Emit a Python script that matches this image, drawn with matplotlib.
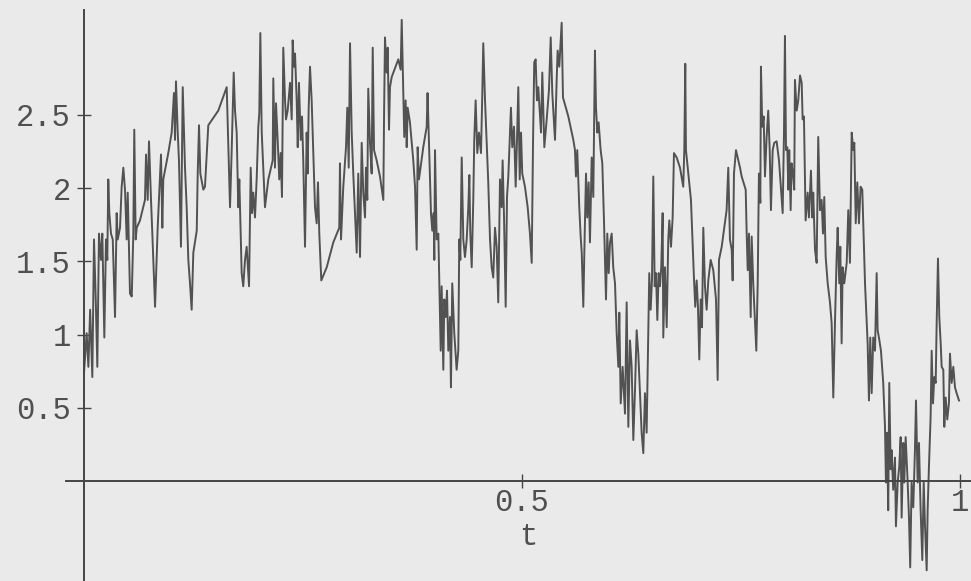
import matplotlib
matplotlib.use("Agg")
import matplotlib.pyplot as plt

plt.rcParams["font.family"] = ["Liberation Mono", "DejaVu Sans Mono"]

seg1_t = [0.000, 0.003, 0.005, 0.007, 0.0095, 0.0114, 0.0134, 0.0152, 0.0171, 0.0194,
          0.0209, 0.0232, 0.0251, 0.0266, 0.0277, 0.0289, 0.0308, 0.0328, 0.0354, 0.0373,
          0.0385, 0.0411, 0.0430, 0.0449, 0.0468, 0.0487, 0.0499, 0.0525, 0.0545, 0.0563,
          0.0574, 0.0590, 0.0602, 0.0639, 0.0696, 0.0708, 0.0727, 0.0742, 0.0765, 0.0780,
          0.0811, 0.0841, 0.0879, 0.0894, 0.0905, 0.0962, 0.1001, 0.1027, 0.1039, 0.1050,
          0.1070, 0.1084, 0.1107, 0.1127, 0.1153, 0.1172, 0.1191, 0.1210, 0.1229, 0.1248,
          0.1287, 0.1298, 0.1313, 0.1328, 0.1362, 0.1381, 0.1419, 0.1533, 0.1629, 0.1667,
          0.1686, 0.1709, 0.1724, 0.1743, 0.1761, 0.1773, 0.1800, 0.1818, 0.1838, 0.1857,
          0.1884]
seg1_v = [0.74, 1.01, 0.78, 1.17, 0.71, 1.65, 1.24, 0.78, 1.69, 1.51,
          1.69, 0.98, 1.65, 1.51, 2.06, 1.83, 1.69, 1.65, 1.12, 1.83,
          1.65, 1.73, 2.01, 2.14, 1.99, 1.65, 1.97, 1.28, 1.26, 1.69,
          2.40, 1.65, 1.73, 1.78, 1.92, 2.23, 1.92, 2.32, 1.92, 1.69,
          1.19, 1.73, 2.23, 1.73, 2.06, 2.24, 2.38, 2.65, 2.33, 2.73,
          2.38, 2.19, 1.60, 2.69, 2.14, 1.87, 1.51, 1.35, 1.17, 1.56,
          1.71, 2.10, 2.43, 2.10, 1.99, 2.01, 2.43, 2.53, 2.69, 1.87,
          2.26, 2.79, 2.53, 2.38, 1.87, 2.06, 1.42, 1.33, 1.51, 1.60,
          1.33]

seg2_t = [0.1903, 0.1918, 0.1933, 0.1952, 0.1971, 0.1990, 0.2001, 0.2013, 0.2029, 0.2066,
          0.2104, 0.2154, 0.2161, 0.2180, 0.2192, 0.2211, 0.2229, 0.2245, 0.2260, 0.2275,
          0.2295, 0.2306, 0.2325, 0.2352, 0.2371, 0.2382, 0.2397, 0.2409, 0.2428, 0.2440,
          0.2454, 0.2474, 0.2489, 0.2503, 0.2523, 0.2542, 0.2553, 0.2565, 0.2580, 0.2599,
          0.2618, 0.2637, 0.2656, 0.2671, 0.2686, 0.2709, 0.2771, 0.2846, 0.2914, 0.2922,
          0.2934, 0.2960, 0.2991, 0.3006, 0.3022, 0.3037, 0.3056, 0.3074, 0.3094, 0.3113,
          0.3131, 0.3151, 0.3170, 0.3188, 0.3208, 0.3219, 0.3234, 0.3245, 0.3265, 0.3284,
          0.3296, 0.3311, 0.3341, 0.3379, 0.3417, 0.3425, 0.3436, 0.3455, 0.3467, 0.3482,
          0.3493, 0.3513, 0.3588, 0.3615, 0.3627, 0.3645, 0.3656, 0.3672, 0.3684, 0.3695,
          0.3721, 0.3759]
seg2_v = [2.14, 1.83, 1.97, 1.80, 2.06, 2.42, 2.51, 3.06, 2.38, 1.87,
          2.06, 2.19, 2.75, 2.14, 2.58, 2.33, 2.06, 2.24, 1.94, 2.96,
          2.60, 2.47, 2.53, 2.72, 2.47, 3.01, 2.83, 2.92, 2.60, 2.28,
          2.72, 2.33, 2.49, 2.19, 1.60, 2.38, 2.10, 2.55, 2.83, 2.60,
          2.24, 1.87, 1.76, 2.04, 1.69, 1.37, 1.46, 1.63, 1.73, 2.17,
          1.65, 2.01, 2.28, 2.55, 2.14, 2.99, 2.38, 2.10, 1.83, 1.56,
          2.10, 1.53, 2.31, 1.97, 1.80, 2.14, 1.92, 2.68, 2.31, 2.10,
          2.96, 2.26, 2.19, 2.08, 1.92, 2.47, 3.03, 2.79, 2.96, 2.40,
          2.69, 2.76, 2.88, 2.81, 3.15, 2.65, 2.35, 2.60, 2.28, 2.55,
          2.45, 2.19]

seg3_t = [0.3779, 0.3798, 0.3809, 0.3824, 0.3873, 0.3912, 0.3922, 0.3938, 0.3961, 0.3976,
          0.3992, 0.3999, 0.4007, 0.4026, 0.4045, 0.4056, 0.4072, 0.4083, 0.4102, 0.4113,
          0.4129, 0.4144, 0.4159, 0.4178, 0.4189, 0.4204, 0.4227, 0.4254, 0.4273, 0.4284,
          0.4296, 0.4312, 0.4330, 0.4349, 0.4369, 0.4387, 0.4399, 0.4410, 0.4426, 0.4444,
          0.4455, 0.4471, 0.4490, 0.4509, 0.4532, 0.4547, 0.4558, 0.4578, 0.4597, 0.4615,
          0.4635, 0.4654, 0.4672, 0.4692, 0.4711, 0.4729, 0.4749, 0.4768, 0.4779, 0.4795,
          0.4814, 0.4829, 0.4844, 0.4874, 0.4889, 0.4909, 0.4928, 0.4943, 0.4958, 0.4974,
          0.4989, 0.5003, 0.5034, 0.5065, 0.5091, 0.5111, 0.5126, 0.5140, 0.5156, 0.5171,
          0.5186, 0.5217, 0.5232, 0.5255, 0.5282, 0.5308, 0.5328, 0.5346, 0.5377, 0.5396,
          0.5407, 0.5426, 0.5453, 0.5468, 0.5529, 0.5586]
seg3_v = [2.01, 1.58, 2.28, 2.06, 2.28, 2.42, 2.65, 2.31, 1.83, 1.71,
          1.83, 1.51, 2.26, 1.65, 1.69, 1.37, 0.89, 1.33, 0.76, 1.24,
          1.12, 1.30, 0.89, 1.12, 0.64, 1.35, 1.01, 0.76, 0.89, 1.65,
          1.51, 2.21, 1.65, 1.53, 1.65, 1.87, 2.09, 1.69, 1.46, 1.92,
          2.33, 2.60, 2.24, 2.38, 2.24, 2.65, 2.99, 2.60, 2.31, 2.04,
          1.65, 1.46, 1.39, 1.73, 1.60, 1.22, 2.06, 1.87, 2.19, 1.80,
          1.19, 1.94, 2.08, 2.55, 2.28, 2.42, 2.01, 2.33, 2.69, 2.06,
          2.38, 2.10, 2.01, 1.87, 1.69, 1.49, 2.31, 2.86, 2.88, 2.60,
          2.69, 2.38, 2.79, 2.28, 2.47, 2.67, 3.03, 2.65, 2.33, 2.74,
          2.94, 2.83, 3.13, 2.62, 2.49, 2.33]

seg4_t = [0.5605, 0.5616, 0.5631, 0.5654, 0.5670, 0.5682, 0.5700, 0.5716, 0.5731, 0.5745,
          0.5761, 0.5776, 0.5796, 0.5814, 0.5833, 0.5845, 0.5860, 0.5875, 0.5898, 0.5917,
          0.5936, 0.5959, 0.5974, 0.5990, 0.6005, 0.6024, 0.6042, 0.6062, 0.6081, 0.6100,
          0.6111, 0.6127, 0.6149, 0.6176, 0.6195, 0.6214, 0.6233, 0.6252, 0.6271, 0.6290,
          0.6309, 0.6328, 0.6347, 0.6366, 0.6385, 0.6404, 0.6423, 0.6442, 0.6453, 0.6469,
          0.6484, 0.6499, 0.6515, 0.6530, 0.6545, 0.6560, 0.6575, 0.6590, 0.6606, 0.6613,
          0.6632, 0.6652, 0.6670, 0.6682, 0.6701, 0.6720, 0.6735, 0.6766, 0.6804, 0.6841,
          0.6853, 0.6864, 0.6872, 0.6902, 0.6929, 0.6963, 0.6978, 0.6994, 0.7009, 0.7024,
          0.7040, 0.7055, 0.7070, 0.7089, 0.7108, 0.7127, 0.7154, 0.7184, 0.7215, 0.7234,
          0.7249, 0.7280, 0.7336, 0.7355, 0.7374, 0.7394, 0.7405, 0.7420, 0.7443, 0.7489]
seg4_v = [2.26, 2.08, 2.26, 1.87, 1.67, 1.56, 1.19, 1.69, 2.10, 1.80,
          2.04, 1.63, 2.21, 1.94, 2.94, 2.55, 2.38, 2.45, 2.26, 2.17,
          1.78, 1.24, 1.69, 1.42, 1.63, 1.69, 1.46, 1.35, 1.01, 0.78,
          1.15, 0.53, 0.78, 0.46, 1.22, 0.37, 0.96, 0.78, 0.28, 0.62,
          1.03, 0.87, 0.60, 0.33, 0.19, 0.60, 0.33, 1.01, 1.42, 1.17,
          1.37, 2.08, 1.33, 1.42, 1.10, 1.42, 1.33, 1.46, 1.83, 0.98,
          1.46, 1.05, 1.65, 1.78, 1.60, 1.80, 2.24, 2.21, 2.14, 2.01,
          2.26, 2.85, 2.26, 2.08, 1.92, 1.39, 1.19, 1.37, 1.19, 0.83,
          1.24, 1.05, 1.73, 1.33, 1.17, 1.37, 1.51, 1.44, 1.24, 0.69,
          1.51, 1.60, 1.85, 2.14, 1.65, 1.58, 1.37, 2.10, 2.26, 2.14]

seg5_t = [0.7508, 0.7554, 0.7565, 0.7577, 0.7591, 0.7611, 0.7622, 0.7640, 0.7660, 0.7675,
          0.7691, 0.7705, 0.7721, 0.7728, 0.7743, 0.7759, 0.7774, 0.7793, 0.7811, 0.7828,
          0.7842, 0.7862, 0.7880, 0.7907, 0.7934, 0.7957, 0.7976, 0.7991, 0.8002, 0.8014,
          0.8029, 0.8040, 0.8051, 0.8067, 0.8078, 0.8097, 0.8108, 0.8116, 0.8136, 0.8154,
          0.8174, 0.8193, 0.8204, 0.8219, 0.8238, 0.8261, 0.8276, 0.8299, 0.8314, 0.8325,
          0.8345, 0.8364, 0.8382, 0.8402, 0.8421, 0.8436, 0.8451, 0.8467, 0.8490, 0.8516,
          0.8535, 0.8554, 0.8573, 0.8592, 0.8604, 0.8622, 0.8634, 0.8649, 0.8661, 0.8679,
          0.8707, 0.8725, 0.8744, 0.8764, 0.8782, 0.8794, 0.8810, 0.8828, 0.8847, 0.8866,
          0.8885, 0.8901, 0.8916, 0.8935, 0.8946, 0.8961, 0.8976, 0.8992, 0.9010, 0.9030,
          0.9049, 0.9060, 0.9075, 0.9098, 0.9124, 0.9144, 0.9155, 0.9167, 0.9181, 0.9193,
          0.9209, 0.9220, 0.9238, 0.9258, 0.9269, 0.9289, 0.9307, 0.9323, 0.9334, 0.9353,
          0.9364, 0.9380, 0.9403, 0.9418, 0.9432, 0.9448, 0.9467, 0.9486, 0.9498, 0.9517,
          0.9532, 0.9551, 0.9570, 0.9586, 0.9600, 0.9620, 0.9631, 0.9646, 0.9665, 0.9677,
          0.9692, 0.9707, 0.9723, 0.9734, 0.9749, 0.9764, 0.9780, 0.9791, 0.9810, 0.9821,
          0.9837, 0.9855, 0.9874, 0.9886, 0.9905, 0.9924, 0.9943, 0.9962, 0.9989]
seg5_v = [2.08, 1.99, 1.69, 1.44, 1.69, 1.12, 1.67, 1.35, 1.08, 0.89,
          1.35, 2.10, 1.90, 2.83, 2.42, 2.49, 2.08, 2.35, 2.53, 2.26,
          1.85, 2.26, 2.31, 2.32, 2.19, 1.99, 1.83, 2.38, 3.04, 2.26,
          2.28, 1.99, 2.26, 1.85, 2.17, 2.08, 1.99, 2.74, 2.53, 2.60,
          2.77, 2.72, 2.47, 2.49, 1.78, 1.97, 1.80, 2.12, 1.80, 1.97,
          1.58, 1.49, 2.35, 1.85, 1.92, 1.69, 1.94, 1.53, 1.35, 1.22,
          1.08, 0.57, 1.08, 1.53, 1.73, 1.35, 1.60, 0.94, 1.46, 1.35,
          1.49, 1.85, 1.49, 2.38, 2.26, 2.31, 1.76, 2.04, 1.76, 2.01,
          1.99, 1.65, 1.35, 1.08, 0.94, 0.55, 0.98, 0.60, 0.98, 0.89,
          1.42, 1.03, 0.98, 0.89, 0.67, 0.37, -0.01, 0.33, -0.20, 0.67,
          0.08, 0.21, -0.06, 0.16, -0.31, -0.01, 0.10, 0.30, -0.25, 0.26,
          -0.01, 0.30, -0.01, -0.25, -0.59, -0.01, -0.18, 0.21, 0.55, -0.01,
          0.26, -0.20, -0.54, -0.01, -0.29, -0.61, -0.20, 0.10, 0.44, 0.89,
          0.53, 0.71, 0.67, 1.08, 1.52, 1.12, 0.94, 0.78, 0.76, 0.37,
          0.57, 0.42, 0.53, 0.87, 0.67, 0.78, 0.64, 0.60, 0.55]

y_ticks = [0.5, 1.0, 1.5, 2.0, 2.5]
y_tick_labels = ["0.5", "1", "1.5", "2", "2.5"]
x_ticks = [0.5, 1.0]
x_tick_labels = ["0.5", "1"]
x_axis_label = "t"

t = seg1_t + seg2_t + seg3_t + seg4_t + seg5_t
w = seg1_v + seg2_v + seg3_v + seg4_v + seg5_v

bg = "#eaeaea"
ink = "#454545"

fig = plt.figure(figsize=(9.71, 5.81), dpi=100, facecolor=bg)
ax = fig.add_axes([0, 0, 1, 1], facecolor=bg)

ax.plot(t, w, color="#525252", lw=1.4, solid_joinstyle="round")

xmin, xmax = -0.0959, 1.0126
ymin, ymax = -0.683, 3.2855
ax.set_xlim(xmin, xmax)
ax.set_ylim(ymin, ymax)

for s in ("top", "right"):
    ax.spines[s].set_visible(False)
ax.spines["left"].set_position(("data", 0))
ax.spines["bottom"].set_position(("data", 0))
ax.spines["left"].set_bounds(ymin, 3.217)
ax.spines["bottom"].set_bounds(-0.02, xmax)
for s in ("left", "bottom"):
    ax.spines[s].set_color(ink)
    ax.spines[s].set_linewidth(1.4)

ax.set_yticks(y_ticks)
ax.set_yticklabels(y_tick_labels)
ax.set_xticks(x_ticks)
ax.set_xticklabels(x_tick_labels)
ax.tick_params(axis="both", direction="inout", length=9.4, width=1.0,
               color=ink, labelsize=22, labelcolor="#505050")
ax.tick_params(axis="y", pad=4.7)
ax.tick_params(axis="x", pad=0.0)

ax.text(0.507, -0.38, x_axis_label, ha="center", va="center",
        fontsize=22, color="#505050")

fig.savefig("out.png", dpi=100, facecolor=bg)
